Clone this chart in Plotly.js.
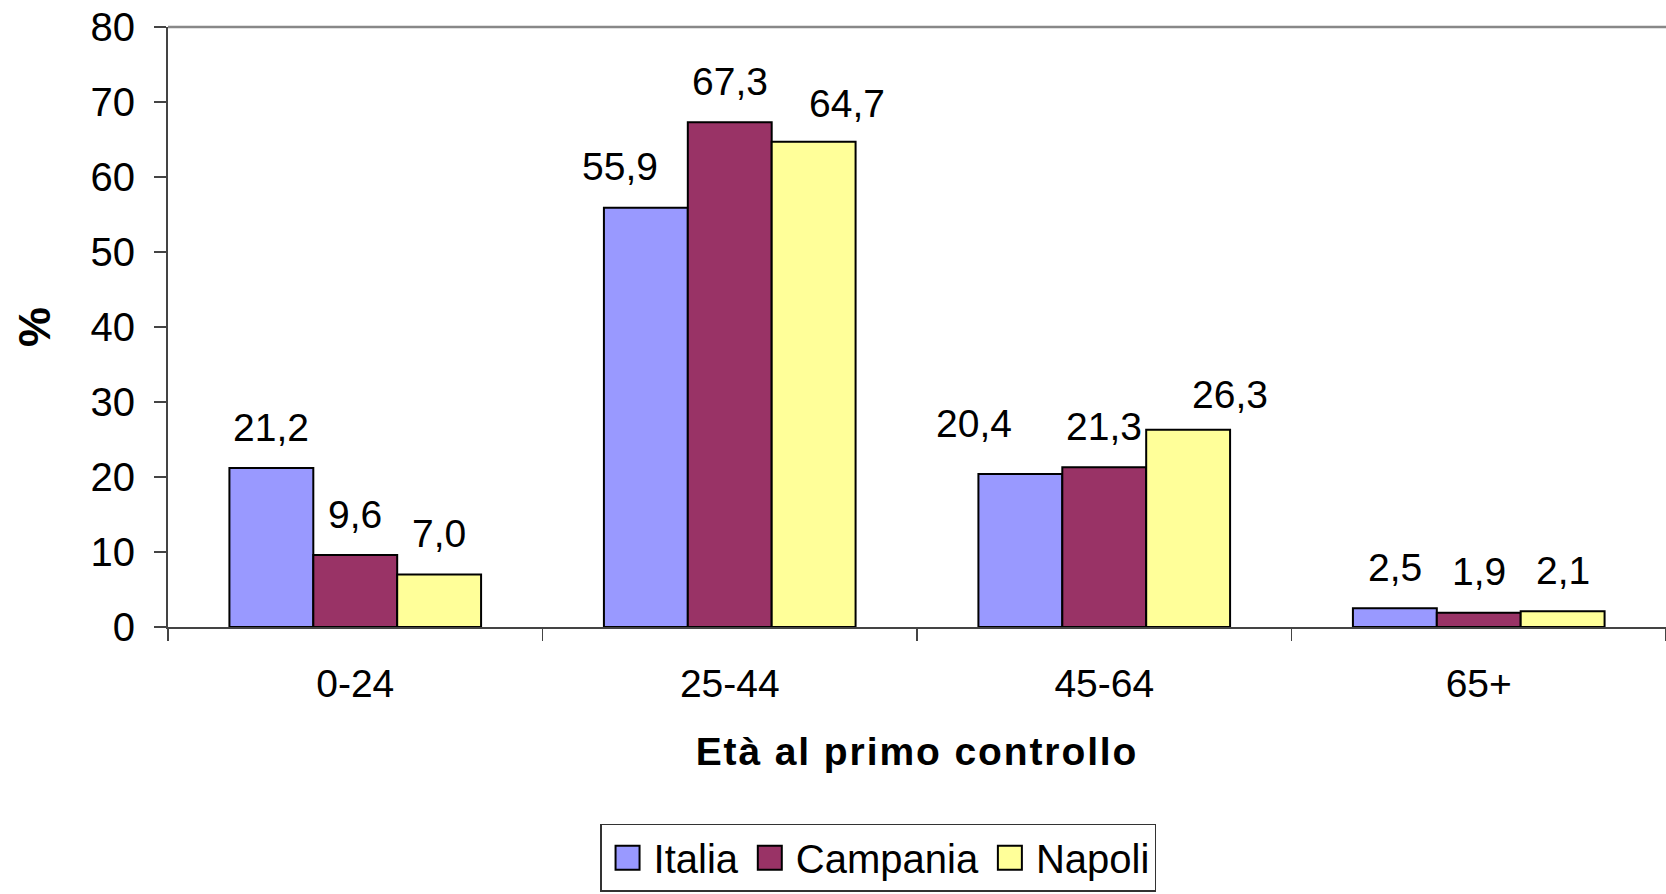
<!DOCTYPE html>
<html>
<head>
<meta charset="utf-8">
<script src="https://cdn.plot.ly/plotly-3.0.1.min.js"></script>
<style>
html,body{margin:0;padding:0;background:#fff;}
#chart{width:1666px;height:894px;}
#chart .xtitle{letter-spacing:1.9px;}
</style>
</head>
<body>
<div id="chart"></div>
<script>
var categories = ["0-24", "25-44", "45-64", "65+"];
var seriesNames = ["Italia", "Campania", "Napoli"];
var italia = [21.2, 55.9, 20.4, 2.5];
var campania = [9.6, 67.3, 21.3, 1.9];
var napoli = [7.0, 64.7, 26.3, 2.1];
var yTicks = [0, 10, 20, 30, 40, 50, 60, 70, 80];

var colors = ["#9999FF", "#993366", "#FFFF99"];
var allSeries = [italia, campania, napoli];
var FONT = '"Liberation Sans", Arial, sans-serif';
var bargap = 0.328;

// label nudges (px) to mimic the reference's hand-placed labels [series][category]
var labelDx = [[0, -26, -46, 0], [0, 0, 0, 0], [0, 33, 42, 0]];
var labelDy = [[0, 0, 10, 0], [0, 0, 0, 0], [0, -3, -6, 0]];

function fmt(v) { return v.toFixed(1).replace('.', ','); }

var traces = allSeries.map(function (vals, s) {
  return {
    type: 'bar',
    name: seriesNames[s],
    x: categories,
    y: vals,
    marker: { color: colors[s], line: { color: '#000', width: 2 } },
    hoverinfo: 'skip'
  };
});

var barW = (1 - bargap) / allSeries.length;
var annotations = [];
allSeries.forEach(function (vals, s) {
  vals.forEach(function (v, i) {
    annotations.push({
      x: i + (s - (allSeries.length - 1) / 2) * barW,
      y: v,
      xref: 'x', yref: 'y',
      text: fmt(v),
      showarrow: false,
      xanchor: 'center', yanchor: 'middle',
      yshift: 41 + labelDy[s][i],
      xshift: labelDx[s][i],
      font: { family: FONT, size: 39, color: '#000' }
    });
  });
});

var layout = {
  width: 1666, height: 894,
  margin: { l: 168, r: 0, t: 27, b: 267, autoexpand: false },
  paper_bgcolor: '#fff', plot_bgcolor: '#fff',
  barmode: 'group', bargap: bargap, bargroupgap: 0,
  showlegend: true,
  font: { family: FONT, color: '#000' },
  xaxis: {
    type: 'category',
    tickson: 'boundaries',
    ticks: 'outside', ticklen: 12, tickwidth: 1.5, tickcolor: '#444',
    showline: true, linecolor: '#444', linewidth: 2,
    showgrid: false, zeroline: false,
    tickfont: { family: FONT, size: 39, color: '#000' },
    ticklabelstandoff: 21,
    title: { text: 'Età al primo controllo', standoff: 34, font: { family: FONT, size: 39, weight: 'bold', color: '#000' } },
    fixedrange: true
  },
  yaxis: {
    range: [0, 80],
    tickvals: yTicks,
    ticktext: yTicks.map(String),
    ticks: 'outside', ticklen: 12, tickwidth: 1.5, tickcolor: '#444',
    showline: true, linecolor: '#444', linewidth: 2,
    showgrid: false, zeroline: false,
    tickfont: { family: FONT, size: 40, color: '#000' },
    ticklabelstandoff: 11,
    title: { text: '%', standoff: 26, font: { family: FONT, size: 45, weight: 'bold', color: '#000' } },
    fixedrange: true
  },
  legend: {
    orientation: 'h',
    x: 0.474, xanchor: 'center',
    y: -0.328, yanchor: 'top',
    bordercolor: '#333', borderwidth: 1.5,
    bgcolor: '#fff',
    itemwidth: 42,
    font: { family: FONT, size: 40, color: '#000' },
    traceorder: 'normal'
  },
  shapes: [{
    type: 'line', xref: 'paper', yref: 'paper',
    x0: 0, x1: 1, y0: 1, y1: 1,
    line: { color: '#888', width: 2.5 }
  }],
  annotations: annotations
};

Plotly.newPlot('chart', traces, layout, { displayModeBar: false, staticPlot: true }).then(function (gd) {
  // enlarge legend swatches to match the reference's bigger squares
  var sw = gd.querySelectorAll('.legendpoints path');
  sw.forEach(function (p) { p.setAttribute('d', 'M12,12H-12V-12H12Z'); });
});
</script>
</body>
</html>
